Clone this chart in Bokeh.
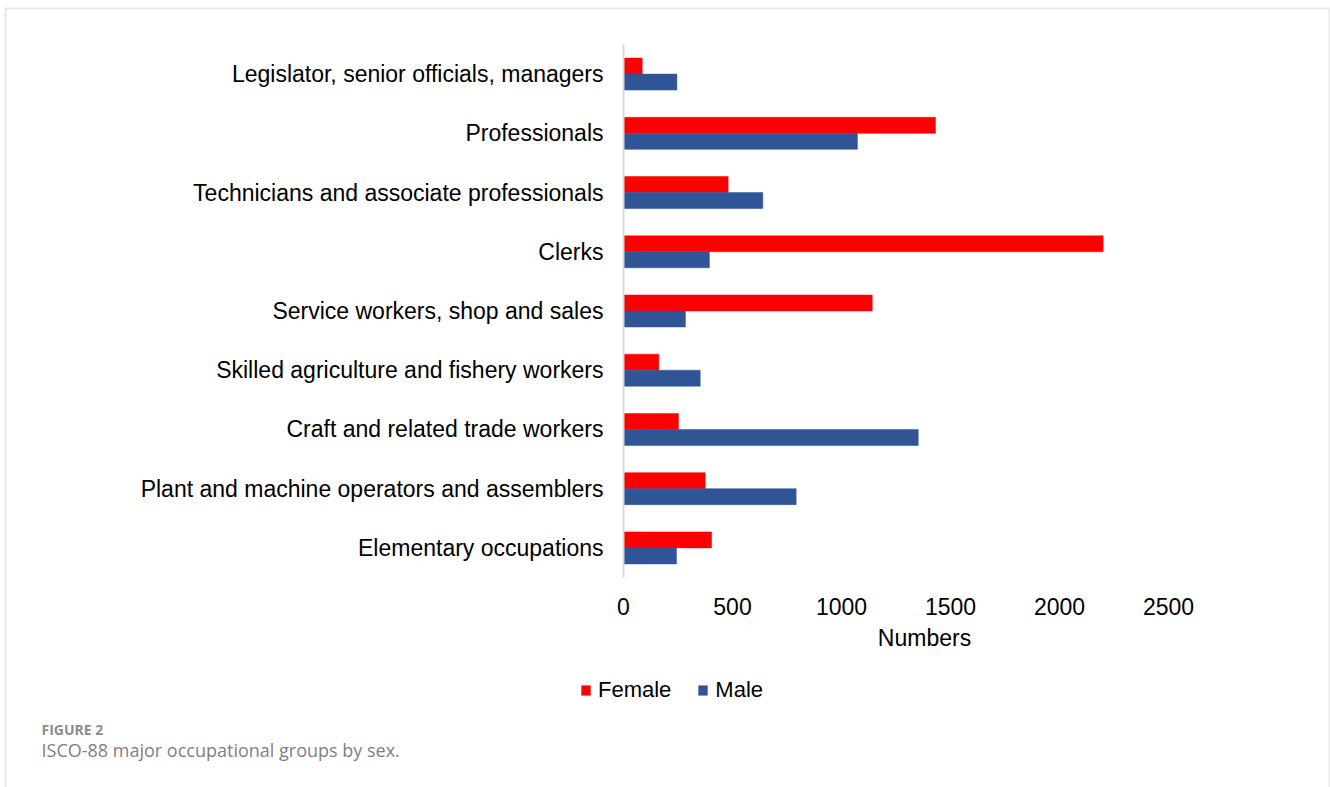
from bokeh.plotting import figure
from bokeh.models import (ColumnDataSource, Range1d, FixedTicker, Label,
                          Legend, LegendItem, BoxAnnotation)
from bokeh.embed import file_html
from bokeh.resources import INLINE

# ---- data ----
categories = [
    "Legislator, senior officials, managers",
    "Professionals",
    "Technicians and associate professionals",
    "Clerks",
    "Service workers, shop and sales",
    "Skilled agriculture and fishery workers",
    "Craft and related trade workers",
    "Plant and machine operators and assemblers",
    "Elementary occupations",
]
female = [86, 1431, 480, 2200, 1141, 162, 252, 375, 404]
male = [245, 1073, 639, 394, 284, 352, 1352, 792, 243]
x_ticks = [0, 500, 1000, 1500, 2000, 2500]
series_names = ["Female", "Male"]
x_title = "Numbers"
fig_label = "FIGURE 2"
caption = "ISCO-88 major occupational groups by sex."

RED = "#ff0000"
BLUE = "#2f5597"
FONT = "Liberation Sans"

# category positions: first category on top
n = len(categories)
pos = [n - 1 - i for i in range(n)]
OFF = 0.135
BAR_H = 0.27
src = ColumnDataSource(dict(
    cat=categories, female=female, male=male,
    yf=[v + OFF for v in pos], ym=[v - OFF for v in pos]))

W, H = 1330, 787
# frame spans the whole canvas; scales chosen so that the plot area sits where it should
PX0, PX1 = 623, 1168       # pixel of x=0 and x=2500
PY_TOP, PY_BOT = 44, 577   # pixel of category band top/bottom
kx = (PX1 - PX0) / x_ticks[-1]
ky = (PY_BOT - PY_TOP) / n
x_range = Range1d(-PX0 / kx, (W - PX0) / kx)
y_range = Range1d(-0.5 - (H - PY_BOT) / ky, -0.5 + PY_BOT / ky)

p = figure(width=W, height=H, output_backend="svg", toolbar_location=None,
           x_range=x_range, y_range=y_range,
           min_border_left=0, min_border_right=0, min_border_top=0, min_border_bottom=0)
p.outline_line_color = None
p.xgrid.visible = False
p.ygrid.visible = False
p.background_fill_color = "white"
p.border_fill_color = "white"

rf = p.hbar(y="yf", right="female", left=0, height=BAR_H, source=src,
            fill_color=RED, line_color=RED, line_width=0.5)
rm = p.hbar(y="ym", right="male", left=0, height=BAR_H, source=src,
            fill_color=BLUE, line_color=BLUE, line_width=0.5)

# y axis (category axis) at x = 0
overrides = {}
for v, c in zip(pos, categories):
    overrides[v] = c
    overrides[str(v)] = c
ya = p.yaxis[0]
ya.fixed_location = 0
ya.bounds = (-0.5, n - 0.5)
ya.ticker = FixedTicker(ticks=pos)
ya.major_label_overrides = overrides
ya.axis_line_color = "#d9d9d9"
ya.axis_line_width = 2
ya.major_tick_line_color = None
ya.minor_tick_line_color = None
ya.major_label_text_font = FONT
ya.major_label_text_font_size = "23px"
ya.major_label_text_color = "#000000"
ya.major_label_standoff = 14

# x axis at bottom of category band
xa = p.xaxis[0]
xa.fixed_location = -0.5
xa.bounds = (x_ticks[0], x_ticks[-1])
xa.ticker = FixedTicker(ticks=x_ticks)
xa.axis_line_color = None
xa.major_tick_line_color = None
xa.minor_tick_line_color = None
xa.major_label_text_font = FONT
xa.major_label_text_font_size = "23px"
xa.major_label_text_color = "#000000"
xa.major_label_standoff = 14

# axis title
p.add_layout(Label(x=924, y=637, x_units="canvas", y_units="canvas", text=x_title,
                   text_font=FONT, text_font_size="23px", text_color="#000000",
                   text_align="center", text_baseline="alphabetic"))

# legend
legend = Legend(items=[LegendItem(label=series_names[0], renderers=[rf]),
                       LegendItem(label=series_names[1], renderers=[rm])],
                orientation="horizontal", location=(580, 84),
                label_text_font=FONT, label_text_font_size="22px", label_height=22,
                label_text_color="#000000",
                glyph_width=11, glyph_height=12, label_standoff=7, spacing=26,
                padding=0, margin=0, border_line_color=None,
                background_fill_alpha=0)
p.add_layout(legend)

# caption
p.add_layout(Label(x=41, y=729, x_units="canvas", y_units="canvas", text=fig_label,
                   text_font="Open Sans", text_font_size="14px", text_font_style="bold",
                   text_color="#8c8c8c", text_baseline="alphabetic"))
p.add_layout(Label(x=41, y=749, x_units="canvas", y_units="canvas", text=caption,
                   text_font="Open Sans", text_font_size="18px",
                   text_color="#7f7f7f", text_baseline="alphabetic"))

# page frame
p.add_layout(BoxAnnotation(left=5, right=1329, top=8, bottom=820,
                           left_units="canvas", right_units="canvas",
                           top_units="canvas", bottom_units="canvas",
                           fill_alpha=0, line_color="#b3b3b3", line_width=2))

open("out.html", "w").write(file_html(p, INLINE))
